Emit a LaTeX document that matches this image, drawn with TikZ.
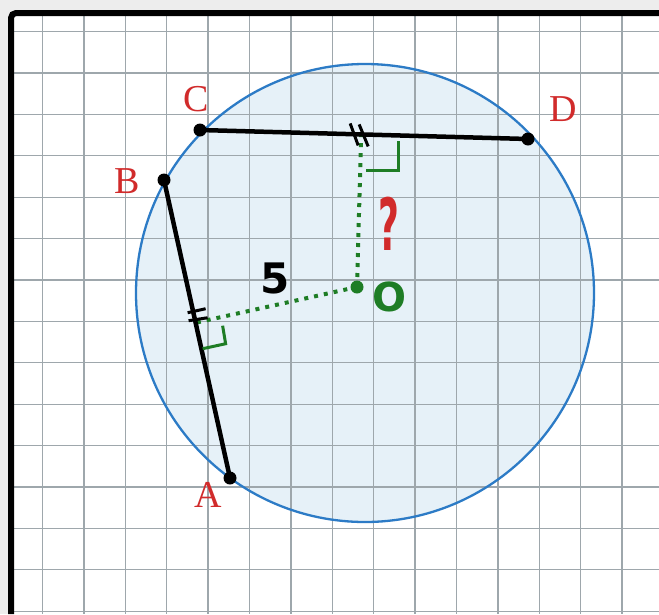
\documentclass[tikz,border=0pt]{standalone}
\usepackage{fontspec}
\setmainfont{Liberation Serif}
\newfontfamily\manofont{DejaVu Sans}
\usetikzlibrary{calc}

\definecolor{rojo}{HTML}{D12B2B}
\definecolor{verde}{HTML}{1E7D25}
\definecolor{azul}{HTML}{2C7BC6}
\definecolor{celeste}{HTML}{E6F1F8}
\definecolor{rejilla}{HTML}{9EA7AC}

\begin{document}
\begin{tikzpicture}[x=1pt, y=-1pt,
  cuerda/.style={line width=4.5pt},
  radio/.style={verde, line width=4pt, dash pattern=on 4pt off 6pt},
  recto/.style={verde, line width=3pt},
  marca/.style={line width=3pt},
  letra/.style={rojo, inner sep=0pt, font=\fontsize{38}{38}\selectfont},
  mano/.style={inner sep=0pt, font=\manofont\bfseries\fontsize{42}{42}\selectfont}]
\useasboundingbox (0,0) rectangle (659,614);
% Fondo y hoja
\fill[black!7] (0,0) rectangle (659,614);
\fill[white] (11,13) rectangle (659,614);

% Círculo (relleno)
\coordinate (M) at (365,293);
\fill[celeste] (M) circle[radius=229];

% Cuadrícula
\foreach \i in {0,...,14} {
    \draw[rejilla, line width=1.3pt] ({42.5+41.4*\i},14) -- ({42.5+41.4*\i},614);
    \draw[rejilla, line width=1.3pt] (14,{31.6+41.4*\i}) -- (659,{31.6+41.4*\i});
}

% Marco
\draw[line width=6pt, rounded corners=5pt] (11,614) -- (11,13) -- (659,13);

% Circunferencia
\draw[azul, line width=2.3pt] (M) circle[radius=229];

% Puntos
\coordinate (A) at (230,478);
\coordinate (B) at (164,180);
\coordinate (C) at (200,130);
\coordinate (D) at (528,139);
\coordinate (O) at (357,287);
\coordinate (H) at ($(C)!(O)!(D)$);
\coordinate (K) at ($(B)!(O)!(A)$);

% Distancias al centro
\draw[radio] (O) -- (H);
\draw[radio] (O) -- (K);

% Cuerdas
\draw[cuerda] (C) -- (D);
\draw[cuerda] (B) -- (A);

% Marcas de cuerdas iguales
\draw[marca] ($(H)+(-11,-11)$) -- ++(8,22);
\draw[marca] ($(H)+(-2,-10)$) -- ++(9,22);
\draw[marca] ($(K)+(-8,-10)$) -- ++(18,-4);
\draw[marca] ($(K)+(-7,-2)$) -- ++(19,-3);

% Ángulos rectos
\draw[recto] ($(H)+(37,7)$) -- ($(H)+(37,36)$) -- ($(H)+(5,36)$);
\draw[recto] ($(K)+(7,26)$) -- ($(K)+(30,21)$) -- ($(K)+(27,3)$);

\foreach \p in {A,B,C,D} {
    \fill (\p) circle[radius=6.5];
}
\fill[verde] (O) circle[radius=6.5];

% Rótulos
\node[letra] (lA) at (208,495) {A};
\node[letra] (lB) at (127,181) {B};
\node[letra] (lC) at (196,99) {C};
\node[letra] (lD) at (563,109) {D};
\node[mano] (l5) at (275,278) {5};
\node[mano, rojo, font=\manofont\bfseries\fontsize{72}{72}\selectfont, xscale=0.5] (lq) at (389,224) {?};
\node[mano, verde, font=\manofont\bfseries\fontsize{40}{40}\selectfont] (lO) at (389,297) {O};
\end{tikzpicture}
\end{document}
